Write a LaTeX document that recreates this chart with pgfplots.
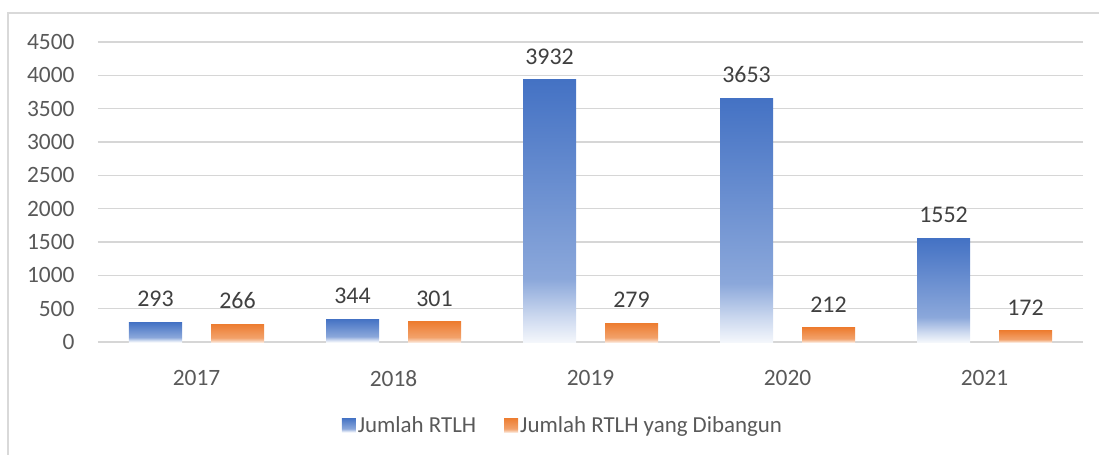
\documentclass[border=0pt]{standalone}
\usepackage{fontspec}
\setmainfont{Carlito}
\usepackage{pgfplots}
\usepackage{pgfplotstable}
\pgfplotsset{compat=1.18}

\definecolor{barblue}{HTML}{4472C4}
\definecolor{barorange}{HTML}{ED7D31}
\definecolor{ticktext}{HTML}{595959}
\definecolor{labeltext}{HTML}{404040}
\definecolor{gridgray}{HTML}{D6D6D6}
\definecolor{framegray}{HTML}{D9D9D9}

% gradient like the Excel fill: full colour at the top, washing out near the base
\colorlet{blueA}{barblue!6}
\colorlet{blueB}{barblue!28}
\colorlet{blueC}{barblue!62}
\colorlet{orangeA}{barorange!20}
\colorlet{orangeB}{barorange!45}
\colorlet{orangeC}{barorange!72}
\pgfdeclareverticalshading{blueshade}{100bp}{color(0bp)=(blueA); color(25bp)=(blueA); color(30bp)=(blueB); color(37bp)=(blueC); color(75bp)=(barblue); color(100bp)=(barblue)}
\pgfdeclareverticalshading{orangeshade}{100bp}{color(0bp)=(orangeA); color(25bp)=(orangeA); color(30bp)=(orangeB); color(37bp)=(orangeC); color(75bp)=(barorange); color(100bp)=(barorange)}

\pgfplotstableread{
x rtlh dibangun
0 293  266
1 344  301
2 3932 279
3 3653 212
4 1552 172
}\datatable

\begin{document}
\begin{tikzpicture}
\begin{axis}[
    at={(0,0)}, anchor=south west,
    scale only axis,
    width=985bp, height=300bp,
    ybar, bar width=53bp,
    xmin=-0.5, xmax=4.5,
    ymin=0, ymax=4500,
    ytick={0,500,...,4500},
    xtick={0,...,4},
    xticklabels={2017,2018,2019,2020,2021},
    axis x line*=bottom,
    axis y line*=left,
    x axis line style={draw=gridgray, line width=1.5bp, -},
    y axis line style={draw=none},
    major tick length=0pt,
    ymajorgrids,
    grid style={draw=gridgray, line width=1.5bp},
    /pgf/number format/assume math mode=true,
    /pgf/number format/1000 sep={},
    tick label style={font=\fontsize{23.5}{28}\selectfont, text=ticktext},
    yticklabel style={anchor=east, xshift=-20bp},
    xticklabel style={anchor=north, yshift=-25bp},
    nodes near coords,
    every node near coord/.append style={font=\fontsize{24}{28}\selectfont, text=labeltext, yshift=12bp},
    legend columns=2,
    legend style={at={(0.472,-0.277)}, anchor=center, draw=none, fill=none,
        font=\fontsize{23}{27}\selectfont, text=ticktext,
        nodes={inner sep=2bp},
        /tikz/every even column/.append style={column sep=26bp}},
    legend image code/.code={\path[#1, draw=none] (0bp,-7bp) rectangle (14bp,7bp);},
]
% one plot per bar, so that each bar gets its own gradient
\pgfplotsinvokeforeach{0,...,4}{
  \addplot[forget plot, draw=none, shade, shading=blueshade, bar shift=-41bp,
      restrict x to domain=#1:#1] table[x=x, y=rtlh] {\datatable};
  \addplot[forget plot, draw=none, shade, shading=orangeshade, bar shift=41bp,
      restrict x to domain=#1:#1] table[x=x, y=dibangun] {\datatable};
}
\addlegendimage{draw=none, shade, shading=blueshade}
\addlegendentry{Jumlah RTLH}
\addlegendimage{draw=none, shade, shading=orangeshade}
\addlegendentry{Jumlah RTLH yang Dibangun}
\end{axis}
% chart-area frame, cropped on the right and bottom as in the source
\draw[framegray, line width=1.5bp] (-90bp,-113bp) -- (-90bp,329bp) -- (1001bp,329bp);
\pgfresetboundingbox
\useasboundingbox (-98bp,-113bp) rectangle (1001bp,342bp);
\end{tikzpicture}
\end{document}
